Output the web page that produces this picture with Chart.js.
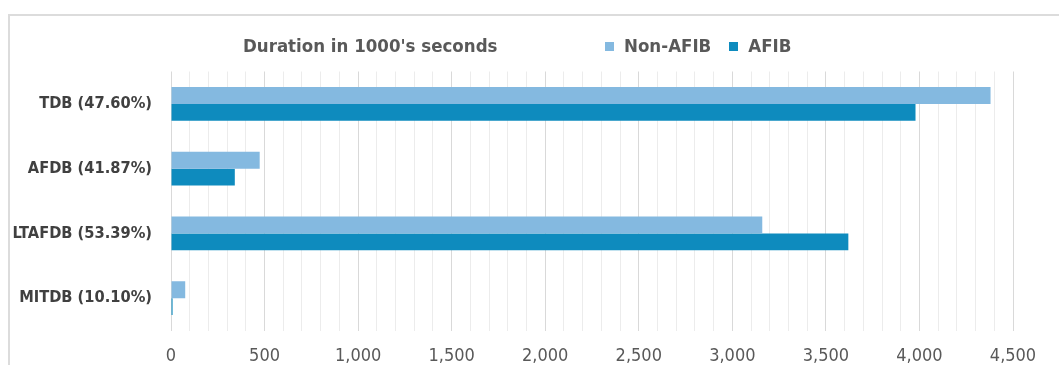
<!DOCTYPE html>
<html>
<head>
<meta charset="utf-8">
<script src="https://cdn.jsdelivr.net/npm/chart.js@4.4.1/dist/chart.umd.min.js"></script>
<style>
  html, body { margin: 0; padding: 0; background: #fff; }
  #wrap { position: relative; width: 1059px; height: 365px; overflow: hidden; }
  #frame { position: absolute; left: 8px; top: 14px; width: 1100px; height: 400px;
           border-left: 2px solid #dcdcdc; border-top: 2px solid #dcdcdc; }
  canvas { position: absolute; left: 0; top: 0; }
  .hdr { position: absolute; top: 34px; font-family: "Liberation Sans Narrow", "DejaVu Sans Condensed", sans-serif;
         font-weight: bold; font-size: 18.5px; color: #595959; white-space: nowrap; line-height: 24px; }
  #title { left: 243px; }
  #legend { left: 605px; display: flex; align-items: center; }
  .sw { display: inline-block; width: 9px; height: 9px; margin-right: 10px; }
  .item { display: flex; align-items: center; margin-right: 18px; }
</style>
</head>
<body>
<div id="wrap">
  <div id="frame"></div>
  <canvas id="c" width="1059" height="365"></canvas>
  <div class="hdr" id="title">Duration in 1000's seconds</div>
  <div class="hdr" id="legend"></div>
</div>
<script>
// Recordings per database, with the AFIB share of total duration
const categories = ['TDB (47.60%)', 'AFDB (41.87%)', 'LTAFDB (53.39%)', 'MITDB (10.10%)'];
// Duration in thousands of seconds
const nonAfib = [4380, 474, 3160, 76];
const afib = [3979, 341, 3620, 8.5];
const seriesNames = ['Non-AFIB', 'AFIB'];
const seriesColors = ['#84B9E0', '#0E8BBE'];
const xTicks = [0, 500, 1000, 1500, 2000, 2500, 3000, 3500, 4000, 4500];

const FONT = '"Liberation Sans Narrow", "DejaVu Sans Condensed", sans-serif';

// legend
const legendEl = document.getElementById('legend');
seriesNames.forEach((name, i) => {
  const it = document.createElement('span');
  it.className = 'item';
  const sw = document.createElement('span');
  sw.className = 'sw';
  sw.style.background = seriesColors[i];
  it.appendChild(sw);
  it.appendChild(document.createTextNode(name));
  legendEl.appendChild(it);
});

const PLOT_LEFT = 171, PLOT_RIGHT = 1013, PLOT_TOP = 71.5, PLOT_BOTTOM = 330.5;

new Chart(document.getElementById('c'), {
  type: 'bar',
  data: {
    labels: categories,
    datasets: [
      { label: seriesNames[0], data: nonAfib, backgroundColor: seriesColors[0], borderWidth: 0 },
      { label: seriesNames[1], data: afib, backgroundColor: seriesColors[1], borderWidth: 0 }
    ]
  },
  options: {
    indexAxis: 'y',
    responsive: false,
    animation: false,
    devicePixelRatio: 1,
    datasets: { bar: { barPercentage: 1.0, categoryPercentage: 0.523 } },
    layout: { padding: { top: PLOT_TOP, right: 1059 - PLOT_RIGHT, left: 0, bottom: 0 } },
    plugins: { legend: { display: false }, title: { display: false }, tooltip: { enabled: false } },
    scales: {
      x: {
        min: 0, max: 4500,
        afterBuildTicks: (s) => {
          const t = [];
          for (let v = 0; v <= 4500; v += 100) t.push({ value: v });
          s.ticks = t;
        },
        afterFit: (s) => { s.height = 365 - PLOT_BOTTOM; },
        ticks: {
          autoSkip: false, maxRotation: 0, padding: 15,
          color: '#595959',
          font: { family: FONT, size: 18 },
          callback: (v) => xTicks.includes(v) ? v.toLocaleString('en-US') : ''
        },
        grid: {
          drawTicks: false,
          color: (ctx) => (ctx.tick && ctx.tick.value % 500 === 0) ? '#d9d9d9' : '#ececec',
          lineWidth: 1
        },
        border: { display: false }
      },
      y: {
        afterFit: (s) => { s.width = PLOT_LEFT; },
        ticks: {
          padding: 19,
          color: '#404040',
          font: { family: FONT, size: 16.3, weight: 'bold' }
        },
        grid: { display: false, drawTicks: false },
        border: { display: false }
      }
    }
  }
});
</script>
</body>
</html>
